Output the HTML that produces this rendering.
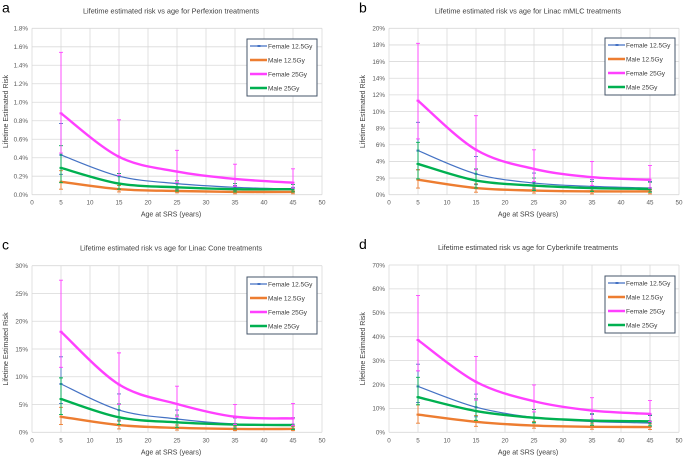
<!DOCTYPE html>
<html><head><meta charset="utf-8">
<style>
html,body{margin:0;padding:0;background:#fff;}
svg{display:block;font-family:"Liberation Sans",sans-serif;}
</style></head>
<body>
<svg id="fig" width="684" height="459" viewBox="0 0 684 459"></svg>
<script>
const ages=[5,15,25,35,45];
const seriesNames=["Female 12.5Gy","Male 12.5Gy","Female 25Gy","Male 25Gy"];
// panel a (values in %)
const aF12=[0.43,0.20,0.12,0.08,0.06], aM12=[0.14,0.06,0.04,0.03,0.03], aF25=[0.88,0.41,0.25,0.17,0.13], aM25=[0.29,0.12,0.08,0.06,0.06];
const aF12hi=[0.77,0.23,0.15,0.10,0.08], aM12hi=[0.26,0.10,0.07,0.05,0.04], aF25hi=[1.54,0.81,0.48,0.33,0.28], aM25hi=[0.53,0.23,0.15,0.12,0.11];
const aF12lo=[0.22,0.10,0.06,0.04,0.03], aM12lo=[0.06,0.03,0.02,0.01,0.01], aF25lo=[0.45,0.21,0.13,0.09,0.07], aM25lo=[0.13,0.06,0.04,0.03,0.03];
// panel b
const bF12=[5.3,2.5,1.4,1.0,0.8], bM12=[1.8,0.8,0.5,0.4,0.4], bF25=[11.3,5.4,3.1,2.1,1.8], bM25=[3.7,1.7,1.1,0.8,0.7];
const bF12hi=[8.7,4.6,2.6,1.8,1.6], bM12hi=[3.0,1.3,0.9,0.7,0.6], bF25hi=[18.2,9.5,5.4,4.0,3.5], bM25hi=[6.3,3.1,2.0,1.6,1.5];
const bF12lo=[3.0,1.2,0.7,0.5,0.4], bM12lo=[0.8,0.3,0.2,0.1,0.1], bF25lo=[6.7,3.0,1.6,1.1,0.8], bM25lo=[1.9,0.8,0.5,0.4,0.3];
// panel c
const cF12=[8.7,4.0,2.4,1.5,1.4], cM12=[2.8,1.3,0.8,0.6,0.6], cF25=[18.1,8.6,5.1,2.8,2.5], cM25=[6.0,2.7,1.8,1.4,1.3];
const cF12hi=[13.6,6.9,4.0,2.6,2.6], cM12hi=[4.5,2.0,1.3,1.1,1.0], cF25hi=[27.4,14.3,8.3,5.0,5.2], cM25hi=[9.8,5.1,3.1,2.6,2.6];
const cF12lo=[5.2,2.2,1.3,0.8,0.7], cM12lo=[1.4,0.6,0.4,0.3,0.3], cF25lo=[11.7,5.0,2.8,1.4,1.2], cM25lo=[3.2,1.4,0.9,0.6,0.5];
// panel d
const dF12=[19.2,10.5,6.2,4.5,3.9], dM12=[7.4,4.4,2.8,2.3,2.2], dF25=[38.6,21.1,13.0,9.1,7.7], dM25=[14.7,8.9,6.1,4.9,4.6];
const dF12hi=[28.5,16.0,9.5,7.5,7.0], dM12hi=[11.5,7.0,4.5,3.8,3.5], dF25hi=[57.2,31.7,19.8,14.5,13.3], dM25hi=[23.0,14.0,9.5,7.8,7.2];
const dF12lo=[12.5,6.5,4.0,2.8,2.5], dM12lo=[3.8,2.5,1.7,1.3,1.2], dF25lo=[25.7,13.5,8.5,5.5,4.5], dM25lo=[11.5,5.0,4.0,3.0,2.7];

const colors=["#4472C4","#ED7D31","#FF40FF","#00B050"];
const widths=[1.2,2.4,2.4,2.4];
const NS="http://www.w3.org/2000/svg";
const svg=document.getElementById('fig');
function mk(tag,attrs,parent,text){const e=document.createElementNS(NS,tag);for(const k in attrs)e.setAttribute(k,attrs[k]);if(text!==undefined)e.textContent=text;(parent||svg).appendChild(e);return e;}

const panels=[
 {letter:"a",title:"Lifetime estimated risk vs age for Perfexion treatments",x0:32,x1:322,yb:194.7,yt:28.3,ymax:1.8,step:0.2,dec:1,lx:247,ly:39,
  vals:[aF12,aM12,aF25,aM25],hi:[aF12hi,aM12hi,aF25hi,aM25hi],lo:[aF12lo,aM12lo,aF25lo,aM25lo]},
 {letter:"b",title:"Lifetime estimated risk vs age for Linac mMLC treatments",x0:389,x1:679,yb:194.7,yt:28.3,ymax:20,step:2,dec:0,lx:605,ly:38,
  vals:[bF12,bM12,bF25,bM25],hi:[bF12hi,bM12hi,bF25hi,bM25hi],lo:[bF12lo,bM12lo,bF25lo,bM25lo]},
 {letter:"c",title:"Lifetime estimated risk vs age for Linac Cone treatments",x0:32,x1:322,yb:432.3,yt:265.7,ymax:30,step:5,dec:0,lx:247,ly:277,
  vals:[cF12,cM12,cF25,cM25],hi:[cF12hi,cM12hi,cF25hi,cM25hi],lo:[cF12lo,cM12lo,cF25lo,cM25lo]},
 {letter:"d",title:"Lifetime estimated risk vs age for Cyberknife treatments",x0:389,x1:679,yb:432.3,yt:265,ymax:70,step:10,dec:0,lx:605,ly:276,
  vals:[dF12,dM12,dF25,dM25],hi:[dF12hi,dM12hi,dF25hi,dM25hi],lo:[dF12lo,dM12lo,dF25lo,dM25lo]}
];

function smoothPath(pts){
  let d=`M${pts[0][0]},${pts[0][1]}`;
  for(let i=0;i<pts.length-1;i++){
    const p0=pts[Math.max(i-1,0)],p1=pts[i],p2=pts[i+1],p3=pts[Math.min(i+2,pts.length-1)];
    const t=0.5/3;
    const c1=[p1[0]+(p2[0]-p0[0])*t,p1[1]+(p2[1]-p0[1])*t];
    const c2=[p2[0]-(p3[0]-p1[0])*t,p2[1]-(p3[1]-p1[1])*t];
    d+=` C${c1[0]},${c1[1]} ${c2[0]},${c2[1]} ${p2[0]},${p2[1]}`;
  }
  return d;
}

panels.forEach(p=>{
  const g=mk('g',{});
  
  
  const xs=v=>p.x0+(v/50)*(p.x1-p.x0);
  const ys=v=>p.yb-(v/p.ymax)*(p.yb-p.yt);
  const lt=mk('text',{x:p.x0-30,y:p.yt-16,'font-size':14,fill:'#000'},g,p.letter);
  
  const tt=mk('text',{x:(p.x0+p.x1)/2-6,y:p.yt-15,'font-size':7.3,fill:'#404040','text-anchor':'middle'},g,p.title);
  
  // grid
  const n=Math.round(p.ymax/p.step);
  for(let i=0;i<=n;i++){
    const v=i*p.step,y=ys(v);
    mk('line',{x1:p.x0,x2:p.x1,y1:y,y2:y,stroke:'#d9d9d9','stroke-width':0.8},g);
    const lab=mk('text',{x:p.x0-4,y:y+2.3,'font-size':6.3,fill:'#595959','text-anchor':'end'},g,v.toFixed(p.dec)+'%');
    
  }
  for(let a=0;a<=50;a+=5){
    const x=xs(a);
    mk('line',{x1:x,x2:x,y1:p.yt,y2:p.yb,stroke:'#d9d9d9','stroke-width':0.8},g);
    const lab=mk('text',{x:x,y:p.yb+10,'font-size':6.3,fill:'#595959','text-anchor':'middle'},g,String(a));
    
  }
  const xt=mk('text',{x:(p.x0+p.x1)/2-6,y:p.yb+22,'font-size':7,fill:'#404040','text-anchor':'middle'},g,'Age at SRS (years)');
  
  const yc=(p.yt+p.yb)/2;
  const yt=mk('text',{x:p.x0-24,y:yc,'font-size':7,fill:'#404040','text-anchor':'middle',transform:`rotate(-90 ${p.x0-24} ${yc})`},g,'Lifetime Estimated Risk');
  
  // series
  [0,1,3,2].forEach(s=>{
    const sg=mk('g',{},g);
    
    
    ages.forEach((a,i)=>{
      const x=xs(a);
      const eb=mk('path',{d:`M${x},${ys(p.lo[s][i])}V${ys(p.hi[s][i])}M${x-2},${ys(p.hi[s][i])}H${x+2}M${x-2},${ys(p.lo[s][i])}H${x+2}`,stroke:colors[s],'stroke-width':0.9,fill:'none'},sg);
      
    });
    const pts=ages.map((a,i)=>[xs(a),ys(p.vals[s][i])]);
    const ln=mk('path',{d:smoothPath(pts),stroke:colors[s],'stroke-width':widths[s],fill:'none'},sg);
    
    pts.forEach(pt=>{
      const m=mk('rect',{x:pt[0]-1.5,y:pt[1]-1,width:3,height:2,fill:colors[s]},sg);
      
    });
  });
  // legend
  const lg=mk('g',{},g);
  
  mk('rect',{x:p.lx,y:p.ly,width:70,height:57,fill:'#fff',stroke:'#44546A','stroke-width':1},lg);
  seriesNames.forEach((nm,s)=>{
    const y=p.ly+7+s*14;
    const e=mk('g',{},lg);
    
    mk('line',{x1:p.lx+3,x2:p.lx+20,y1:y,y2:y,stroke:colors[s],'stroke-width':widths[s]},e);
    mk('rect',{x:p.lx+10.5,y:y-1,width:3,height:2,fill:colors[s]},e);
    mk('text',{x:p.lx+21,y:y+2.3,'font-size':6.5,fill:'#404040'},e,nm);
  });
});
</script>
</body></html>
